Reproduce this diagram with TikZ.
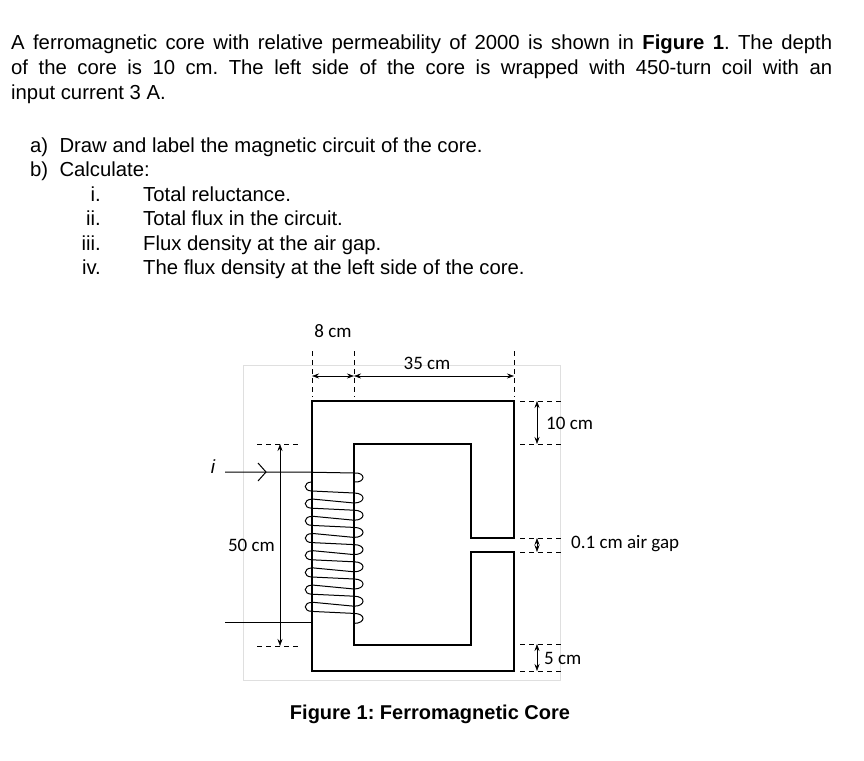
\documentclass[tikz,border=0pt]{standalone}
\usepackage{fontspec}
\setmainfont{Liberation Sans}
\newfontfamily\calfont{Carlito}
\usetikzlibrary{arrows.meta}
\frenchspacing
\begin{document}
\begin{tikzpicture}[x=1pt,y=-1pt,
 dim/.style={dashed,dash pattern=on 5pt off 4pt,line width=0.8pt},
 darr/.style={line width=0.6pt,{Stealth[length=7pt,width=5pt]}-{Stealth[length=7pt,width=5pt]}},
 core/.style={line width=1.6pt},
 lab/.style={font=\calfont\fontsize{19}{19}\selectfont,inner sep=1pt},
 txt/.style={font=\fontsize{20.3}{24.6}\selectfont,inner sep=0pt,anchor=north west,align=left}]
\useasboundingbox (0,0) rectangle (864,760);
\fill[white] (0,0) rectangle (864,760);
\node[txt,text width=821pt,align=justify] (q) at (11,35) {\frenchspacing A ferromagnetic core with relative permeability of 2000 is shown in \textbf{Figure 1}. The depth\linebreak of the core is 10 cm. The left side of the core is wrapped with 450-turn coil with an\linebreak input current 3 A.};
\node[txt] (a) at (30,138) {a)\ \ Draw and label the magnetic circuit of the core.};
\node[txt] (b) at (30,162) {b)\ \ Calculate:};
\foreach \r/\t/\yy in {i./Total reluctance./187, ii./Total flux in the circuit./211, iii./Flux density at the air gap./236, iv./The flux density at the left side of the core./260}
 {\node[txt,anchor=north east] at (101,\yy) {\r}; \node[txt] at (143,\yy) {\t};}
\draw[gray!25,line width=0.5pt] (243,365) rectangle (560,680);
% core
\draw[core] (312,401) -- (514,401) -- (514,538) -- (471,538) -- (471,444) -- (354,444) -- (354,645) -- (471,645) -- (471,552) -- (514,552) -- (514,671) -- (312,671) -- cycle;
% top dims
\foreach \x in {312,354,514} \draw[dim] (\x,351) -- (\x,397);
\draw[darr] (312,376) -- (354,376);
\draw[darr] (354,376) -- (514,376);
\node[lab] (l8) at (333,331) {8 cm};
\node[lab] (l35) at (427,363) {35 cm};
% right dims
\foreach \y in {401,444,538,552,644,671} \draw[dim] (520,\y) -- (563,\y);
\draw[darr] (537,401) -- (537,444);
\draw[darr] (537,538) -- (537,552);
\draw[darr] (537,644) -- (537,671);
\node[lab,anchor=west] (l10) at (545,423) {10 cm};
\node[lab,anchor=west] (lg) at (570,544) {0.1 cm air gap};
\node[lab,anchor=west] (l5) at (543,658) {5 cm};
% left dims
\foreach \y in {444,646} \draw[dim] (257,\y) -- (300,\y);
\draw[darr] (280,444) -- (280,646);
\node[lab,anchor=east] (l50) at (276,545) {50 cm};
% coil
\node[font=\itshape\fontsize{19}{19}\selectfont] (i) at (213,467) {i};
\draw[line width=1pt] (225,472) -- (300,472) -- (354,473);
\draw[line width=1pt] (258,463) -- (266,472) -- (258,481);
\draw[line width=1pt] (354,473) .. controls (366,472) and (366,483) .. (354,482);
\foreach \k in {0,...,7}{
 \pgfmathsetmacro\yl{488+17.2*\k}
 \pgfmathsetmacro\yr{\yl+5}
 \draw[line width=1pt] (354,\yr) .. controls (366,\yr) and (366,\yr+10) .. (354,\yr+10);
 \draw[line width=1pt] (312,\yl-6) .. controls (303,\yl-6) and (303,\yl+3) .. (312,\yl+3) -- (354,\yr);
 \ifnum\k<7 \draw[line width=1pt] (354,\yr+10) -- (312,\yl+11); \fi
}
\draw[line width=1pt] (225,622) -- (312,622);
\node[font=\bfseries\fontsize{20}{20}\selectfont] (cap) at (430,714) {Figure 1: Ferromagnetic Core};
\end{tikzpicture}
\end{document}
